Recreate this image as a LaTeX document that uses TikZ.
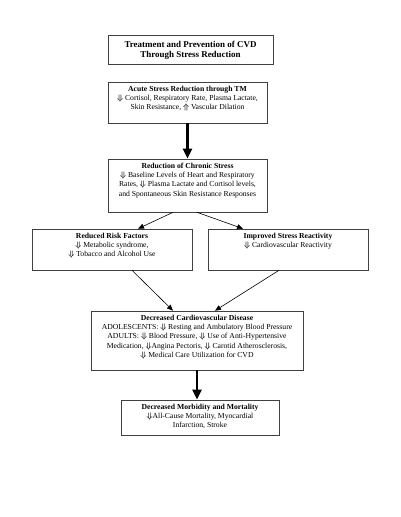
\documentclass[tikz,border=0pt]{standalone}
\usepackage{fontspec}
\setmainfont{Liberation Serif}
\usepackage{amsmath,amssymb}
\usepackage{tikz}
\usetikzlibrary{arrows.meta,positioning}
\tikzset
{
    flowbox/.style  = {rectangle, draw=black!75, line width=0.6bp, inner sep=0pt},
    flowtext/.style = {align=center, inner sep=0pt, font=\fontsize{7.7}{9.3}\selectfont},
    thinarrow/.style  = {-{Triangle[length=6bp,width=5bp]}, line width=0.6bp},
    thickarrow/.style = {-{Triangle[length=10bp,width=9bp]}, line width=2.4bp}
}
\newcommand{\decr}{$\boldsymbol{\Downarrow}$}
\newcommand{\incr}{$\boldsymbol{\Uparrow}$}

\begin{document}
\begin{tikzpicture}[x=1bp, y=-1bp]
    \useasboundingbox (0,0) rectangle (400,517);
    % boxes
    \node [flowbox, minimum width=165bp, minimum height=29bp] (title)      at (190.5, 49.5)  {};
    \node [flowbox, minimum width=159bp, minimum height=41bp] (acute)      at (187.5, 102.5) {};
    \node [flowbox, minimum width=159bp, minimum height=53bp] (chronic)    at (187.5, 185.5) {};
    \node [flowbox, minimum width=160bp, minimum height=41bp] (risk)       at (112, 249.5)   {};
    \node [flowbox, minimum width=160bp, minimum height=41bp] (reactivity) at (288, 249.5)   {};
    \node [flowbox, minimum width=212bp, minimum height=59bp] (cvd)        at (197, 340.5)   {};
    \node [flowbox, minimum width=158bp, minimum height=35bp] (morbidity)  at (200, 417.5)   {};
    % texts
    \node [flowtext, font=\fontsize{9}{10.5}\selectfont\bfseries, below=6bp of title.north] (titletext)
        {Treatment and Prevention of CVD \\ Through Stress Reduction};
    \node [flowtext, below=4bp of acute.north] (acutetext)
        {\textbf{Acute Stress Reduction through TM} \\
         \decr{} Cortisol, Respiratory Rate, Plasma Lactate, \\
         Skin Resistance, \incr{} Vascular Dilation};
    \node [flowtext, below=4bp of chronic.north] (chronictext)
        {\textbf{Reduction of Chronic Stress} \\
         \decr{} Baseline Levels of Heart and Respiratory \\
         Rates, \decr{} Plasma Lactate and Cortisol levels, \\
         and Spontaneous Skin Resistance Responses};
    \node [flowtext, below=4bp of risk.north] (risktext)
        {\textbf{Reduced Risk Factors} \\
         \decr{} Metabolic syndrome, \\
         \decr{} Tobacco and Alcohol Use};
    \node [flowtext, below=4bp of reactivity.north] (reactivitytext)
        {\textbf{Improved Stress Reactivity} \\
         \decr{} Cardiovascular Reactivity};
    \node [flowtext, below=4bp of cvd.north] (cvdtext)
        {\textbf{Decreased Cardiovascular Disease} \\
         ADOLESCENTS: \decr{} Resting and Ambulatory Blood Pressure \\
         ADULTS: \decr{} Blood Pressure, \decr{} Use of Anti-Hypertensive \\
         Medication, \decr{}Angina Pectoris, \decr{} Carotid Atherosclerosis, \\
         \decr{} Medical Care Utilization for CVD};
    \node [flowtext, below=4bp of morbidity.north] (morbiditytext)
        {\textbf{Decreased Morbidity and Mortality} \\
         \decr{}All-Cause Mortality, Myocardial \\
         Infarction, Stroke};
    % connectors
    \draw [thickarrow] (acute.south) -- (acute.south |- chronic.north);
    \draw [thinarrow] ([xshift=-14.5bp]chronic.south) -- ([xshift=26bp]risk.north);
    \draw [thinarrow] ([xshift=9.5bp]chronic.south) -- ([xshift=-45bp]reactivity.north);
    \draw [thinarrow] ([xshift=20bp]risk.south) -- ([xshift=-24bp]cvd.north);
    \draw [thinarrow] ([xshift=-9bp]reactivity.south) -- ([xshift=18bp]cvd.north);
    \draw [thickarrow] (cvd.south) -- (cvd.south |- morbidity.north);
\end{tikzpicture}
\end{document}
